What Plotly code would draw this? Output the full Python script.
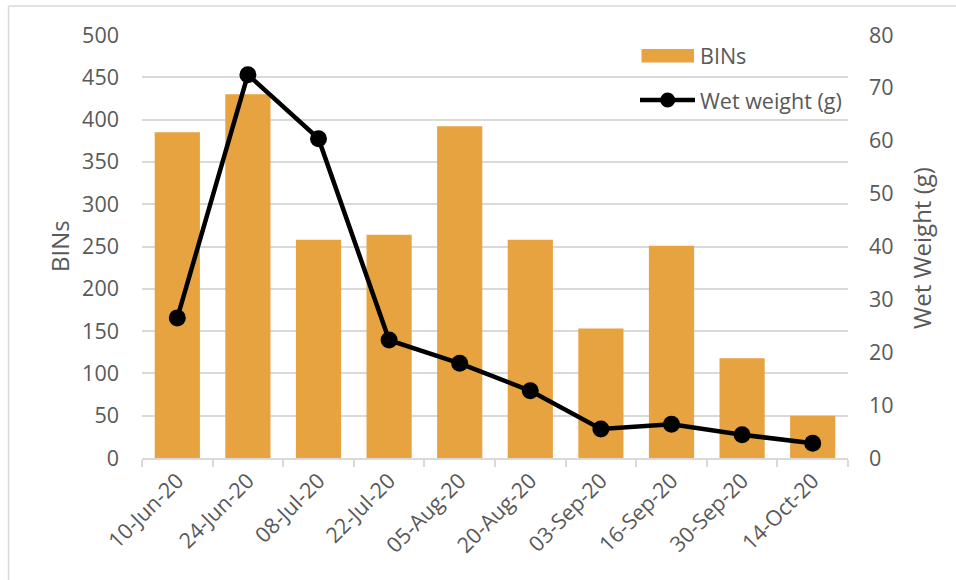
import plotly.graph_objects as go

dates = ["10-Jun-20", "24-Jun-20", "08-Jul-20", "22-Jul-20", "05-Aug-20",
         "20-Aug-20", "03-Sep-20", "16-Sep-20", "30-Sep-20", "14-Oct-20"]
bins = [385, 430, 258, 264, 392, 258, 153, 251, 118, 50]
wet_weight = [26.5, 72.5, 60.4, 22.3, 17.9, 12.7, 5.5, 6.4, 4.4, 2.8]

FONT = "Open Sans"
GREY_TXT = "#595959"
GRID = "#d9d9d9"
BAR = "#E6A33F"
FS = 21.5
FS_TITLE = 24

W, H = 956, 580
L, R, T, B = 142, 108, 35, 122
PW, PH = W - L - R, H - T - B


def px(x):
    return (x - L) / PW


def py(y):
    return (H - B - y) / PH


fig = go.Figure()
fig.add_trace(go.Bar(x=dates, y=bins, name="BINs", marker_color=BAR,
                     marker_line_width=0, showlegend=False))
fig.add_trace(go.Scatter(x=dates, y=wet_weight, name="Wet weight (g)", yaxis="y2",
                         mode="lines+markers", line=dict(color="black", width=4.5),
                         marker=dict(color="black", size=17), showlegend=False))

shapes = [
    # chart frame (left and top)
    dict(type="line", xref="paper", yref="paper", x0=px(8.5), x1=px(8.5), y0=py(6), y1=py(600),
         line=dict(color=GRID, width=1.5)),
    dict(type="line", xref="paper", yref="paper", x0=px(8.5), x1=px(970), y0=py(6), y1=py(6),
         line=dict(color=GRID, width=1.5)),
    # legend: bar swatch
    dict(type="rect", xref="paper", yref="paper", x0=px(641.5), x1=px(694), y0=py(62.5), y1=py(49),
         fillcolor=BAR, line=dict(width=0)),
    # legend: line + marker
    dict(type="line", xref="paper", yref="paper", x0=px(640), x1=px(695), y0=py(100), y1=py(100),
         line=dict(color="black", width=4.5)),
    dict(type="circle", xref="paper", yref="paper", xsizemode="pixel", ysizemode="pixel",
         xanchor=px(667.7), yanchor=py(100), x0=-7.5, x1=7.5, y0=-7.5, y1=7.5,
         fillcolor="black", line=dict(width=0)),
]

annotations = [
    dict(text="BINs", xref="paper", yref="paper", x=px(698), y=py(56), xanchor="left",
         yanchor="middle", showarrow=False, font=dict(family=FONT, size=FS, color=GREY_TXT)),
    dict(text="Wet weight (g)", xref="paper", yref="paper", x=px(698), y=py(100), xanchor="left",
         yanchor="middle", showarrow=False, font=dict(family=FONT, size=FS, color=GREY_TXT)),
    dict(text="BINs", xref="paper", yref="paper", x=px(59), y=py(246), xanchor="center",
         yanchor="middle", textangle=-90, showarrow=False,
         font=dict(family=FONT, size=FS_TITLE, color=GREY_TXT)),
    dict(text="Wet Weight (g)", xref="paper", yref="paper", x=px(922), y=py(248), xanchor="center",
         yanchor="middle", textangle=-90, showarrow=False,
         font=dict(family=FONT, size=FS_TITLE, color=GREY_TXT)),
]

fig.update_layout(
    width=W, height=H,
    margin=dict(l=L, r=R, t=T, b=B, pad=0),
    paper_bgcolor="white", plot_bgcolor="white",
    bargap=0.36,
    font=dict(family=FONT, size=FS, color=GREY_TXT),
    xaxis=dict(type="category", range=[-0.5, len(dates) - 0.5], autorange=False,
               showline=True, linecolor=GRID, linewidth=1.5,
               ticks="outside", tickson="boundaries", ticklen=7, tickcolor=GRID, tickwidth=1.5,
               tickangle=-45, showgrid=False, tickfont=dict(family=FONT, size=FS, color=GREY_TXT)),
    yaxis=dict(range=[0, 500], dtick=50, showgrid=True, gridcolor=GRID, gridwidth=1.5,
               zeroline=False, showline=False, ticks="", ticklabelstandoff=22,
               tickfont=dict(family=FONT, size=FS, color=GREY_TXT)),
    yaxis2=dict(range=[0, 80], dtick=10, overlaying="y", side="right", showgrid=False,
                zeroline=False, showline=False, ticks="", ticklabelstandoff=20,
                tickfont=dict(family=FONT, size=FS, color=GREY_TXT)),
    shapes=shapes,
    annotations=annotations,
    showlegend=False,
)

fig.write_html("out.html")
